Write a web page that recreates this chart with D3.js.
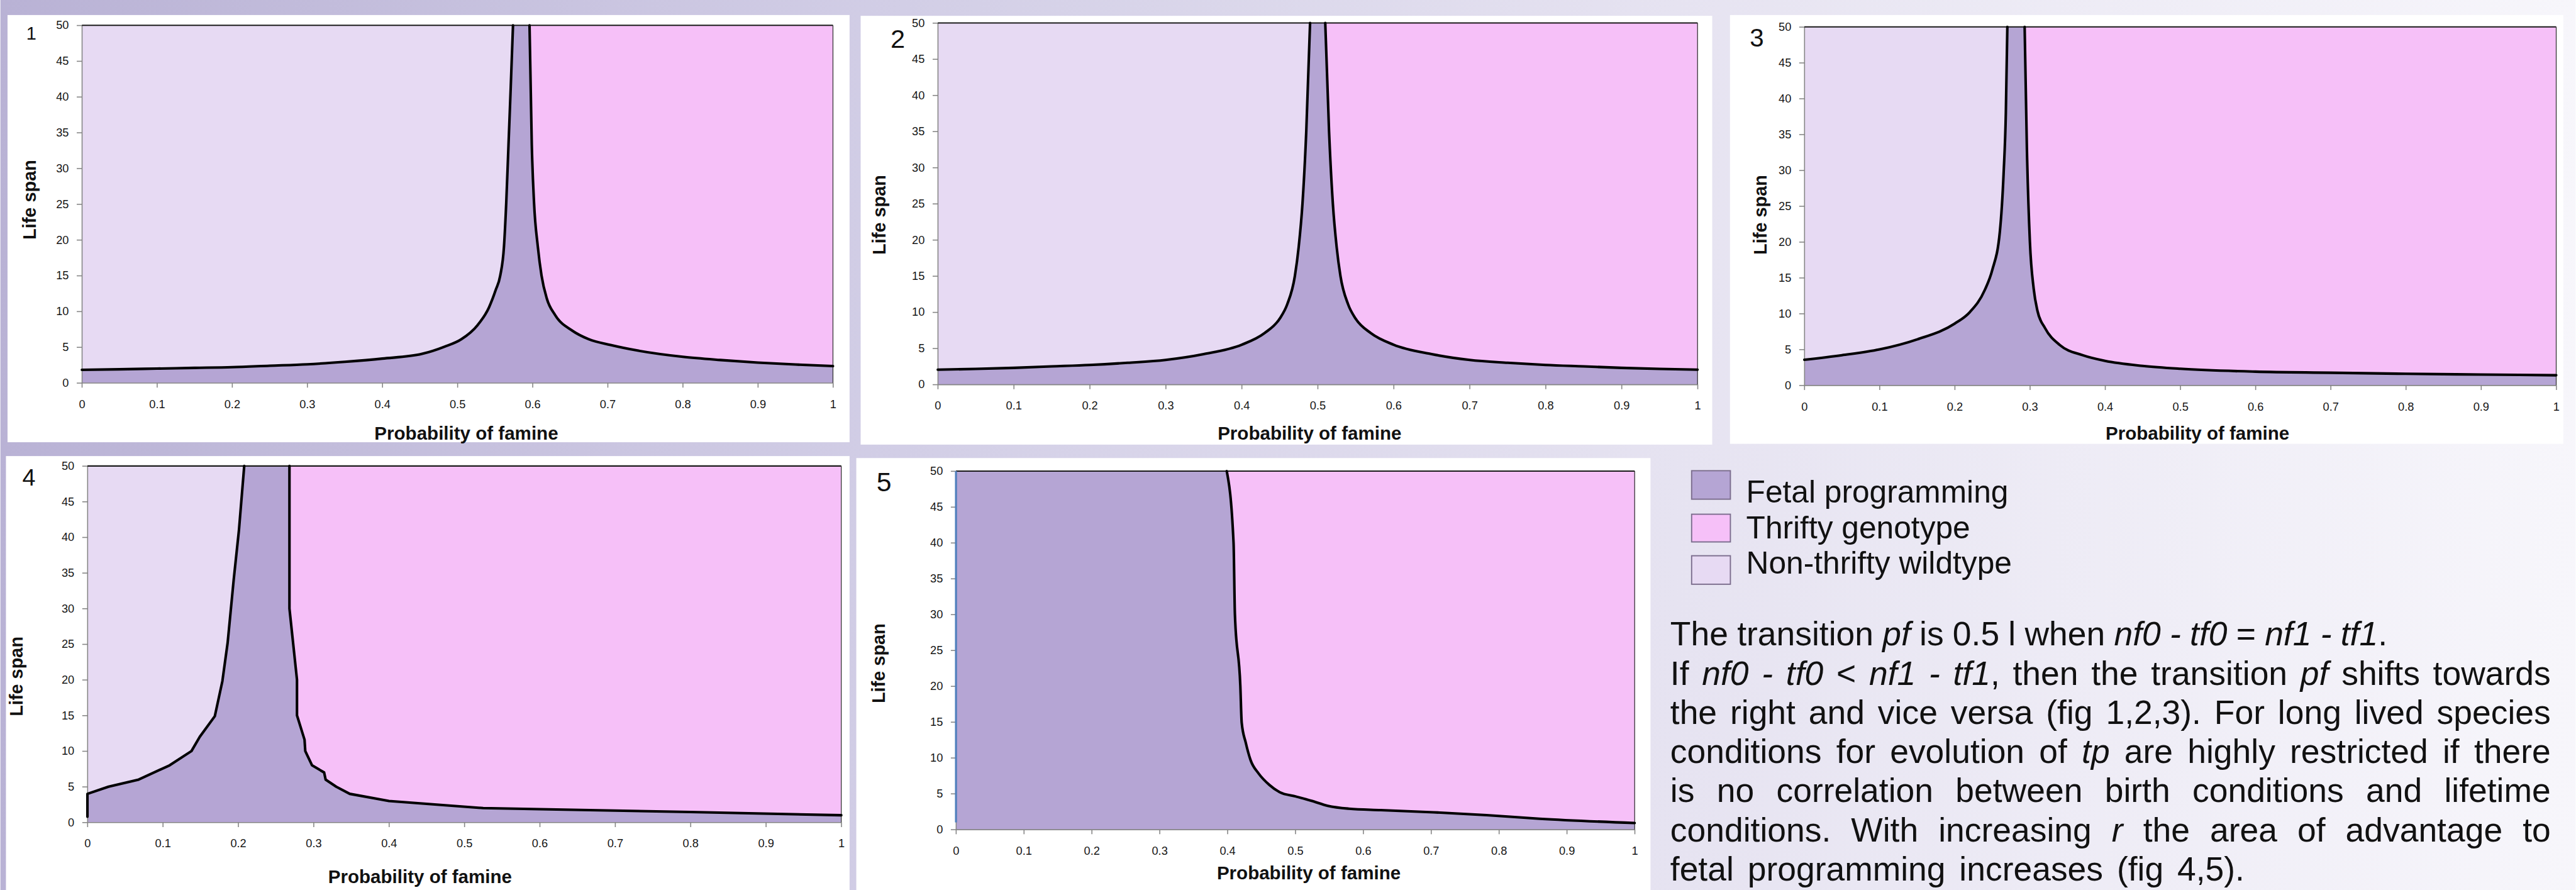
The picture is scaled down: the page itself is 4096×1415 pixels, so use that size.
<!DOCTYPE html>
<html><head><meta charset="utf-8">
<script src="https://cdn.jsdelivr.net/npm/d3@7"></script>
<style>html,body{margin:0;padding:0;overflow:hidden;background:#fff}</style>
</head><body><svg id="c"></svg>
<script>
// ---------------- DATA ----------------
const xTicks = [0,0.1,0.2,0.3,0.4,0.5,0.6,0.7,0.8,0.9,1];
const xTickLabels = ["0","0.1","0.2","0.3","0.4","0.5","0.6","0.7","0.8","0.9","1"];
const yTicks = [0,5,10,15,20,25,30,35,40,45,50];
const xTitle = "Probability of famine";
const yTitle = "Life span";
const panelNames = ["1","2","3","4","5"];

// boundary: non-thrifty wildtype | fetal programming  (probability of famine, life span)
const p1Left = [[0,1.83],[0.05,1.9],[0.1,2.0],[0.15,2.1],[0.2,2.2],[0.25,2.4],[0.3,2.6],[0.35,2.95],[0.4,3.4],[0.453,4.06],[0.483,5.07],[0.505,6.09],[0.527,8.1],[0.542,10.55],[0.551,13.0],[0.557,15.0],[0.562,19.1],[0.565,25.2],[0.568,33.3],[0.571,41.4],[0.574,50]];
// boundary: fetal programming | thrifty genotype
const p1Right = [[0.596,50],[0.599,33.3],[0.602,25.2],[0.607,19.1],[0.612,15.0],[0.619,11.8],[0.63,9.5],[0.653,7.3],[0.675,6.1],[0.704,5.3],[0.741,4.5],[0.8,3.65],[0.85,3.2],[0.9,2.84],[0.95,2.57],[1,2.35]];

const p2Left = [[0,2.05],[0.05,2.15],[0.1,2.3],[0.15,2.5],[0.2,2.7],[0.25,3.0],[0.3,3.4],[0.35,4.2],[0.4,5.5],[0.43,7.1],[0.45,9.1],[0.46,11.1],[0.47,15],[0.475,19],[0.48,25],[0.485,35],[0.49,50]];
const p2Right = [[0.51,50],[0.515,35],[0.52,25],[0.525,19],[0.53,15],[0.54,11.1],[0.55,9.1],[0.57,7.1],[0.6,5.5],[0.65,4.2],[0.7,3.4],[0.75,3.0],[0.8,2.7],[0.85,2.5],[0.9,2.3],[0.95,2.15],[1,2.05]];

const p3Left = [[0,3.56],[0.05,4.2],[0.1,5.0],[0.15,6.4],[0.2,8.6],[0.22,10.2],[0.24,13.3],[0.25,16.1],[0.26,21.4],[0.265,29.5],[0.268,38],[0.27,50]];
const p3Right = [[0.293,50],[0.296,33],[0.3,20],[0.305,13.5],[0.31,10.4],[0.32,8.0],[0.34,5.6],[0.37,4.2],[0.4,3.4],[0.45,2.7],[0.5,2.3],[0.6,1.9],[0.7,1.75],[0.8,1.6],[0.9,1.5],[1,1.4]];

const p4Left = [[0,0.8],[0,4.0],[0.028,5.0],[0.068,6.0],[0.109,8.0],[0.138,10.0],[0.149,12.0],[0.169,14.9],[0.179,19.8],[0.186,25.2],[0.194,34],[0.201,41],[0.208,50]];
const p4Right = [[0.268,50],[0.268,30],[0.278,20],[0.278,15],[0.288,11.6],[0.289,10],[0.298,8],[0.314,7],[0.316,6],[0.33,5],[0.348,4],[0.4,3],[0.525,2],[0.6,1.85],[0.8,1.45],[1,1.0]];

const p5Right = [[0.399,50],[0.409,40],[0.411,30],[0.419,20],[0.421,14.9],[0.427,12.1],[0.434,9.7],[0.446,7.8],[0.462,6.2],[0.477,5.2],[0.501,4.6],[0.524,4.0],[0.548,3.3],[0.579,2.9],[0.626,2.7],[0.704,2.4],[0.782,2.0],[0.86,1.5],[1,0.9]];
const p5Axis = [[0,1.0],[0,50]];

const legendLabels = ["Fetal programming","Thrifty genotype","Non-thrifty wildtype"];
const legendColors = ["#b5a5d4","#f6c0f8","#e7daf3"];

// paragraph: [text, italic]
const paraLines = [
  [["The transition ",0],["pf",1],[" is 0.5 l when ",0],["nf0 - tf0",1],[" = ",0],["nf1 - tf1",1],[".",0]],
  [["If ",0],["nf0 - tf0",1],[" < ",0],["nf1 - tf1",1],[", then the transition ",0],["pf",1],[" shifts towards",0]],
  [["the right and vice versa (fig 1,2,3). For long lived species",0]],
  [["conditions for evolution of ",0],["tp",1],[" are highly restricted if there",0]],
  [["is no correlation between birth conditions and lifetime",0]],
  [["conditions. With increasing ",0],["r",1],[" the area of advantage to",0]],
  [["fetal programming increases (fig 4,5).",0]]
];

// ---------------- LAYOUT ----------------
const W = 6511, H = 2250;
const FETAL = legendColors[0], THRIFTY = legendColors[1], WILD = legendColors[2];
const FONT = "'Liberation Sans', Arial, Helvetica, sans-serif";

const svg = d3.select('#c').attr('width', 4096).attr('height', 1415)
  .attr('viewBox', `0 0 ${W} ${H}`).style('display','block');

const defs = svg.append('defs');
const grad = defs.append('linearGradient').attr('id','bg').attr('x1',0).attr('x2',1).attr('y1',0).attr('y2',0);
[[0,'#b9b2d5'],[0.35,'#d2cee6'],[0.65,'#e6e3f1'],[1,'#f7f6fb']].forEach(s=>
  grad.append('stop').attr('offset',s[0]).attr('stop-color',s[1]));
svg.append('rect').attr('width',W).attr('height',H).attr('fill','url(#bg)');

const panels = [
  {name:panelNames[0], box:[18,38,2147,1118], plot:[206,64,2105,968], left:p1Left, right:p1Right, curve:d3.curveMonotoneX,
   num:[78,100,46], ylab:[90,505], xlab:[1178,1111]},
  {name:panelNames[1], box:[2175,40,4328,1124], plot:[2370,58,4291,972], left:p2Left, right:p2Right, curve:d3.curveMonotoneX,
   num:[2269,121,66], ylab:[2238,543], xlab:[3310,1111]},
  {name:panelNames[2], box:[4373,38,6480,1122], plot:[4561,68,6462,974], left:p3Left, right:p3Right, curve:d3.curveMonotoneX,
   num:[4441,117,64], ylab:[4466,543], xlab:[5555,1111]},
  {name:panelNames[3], box:[14,1153,2147,2260], plot:[220,1178,2126,2079], left:p4Left, right:p4Right, curve:d3.curveLinear,
   num:[72,1228,60], ylab:[57,1710], xlab:[1061,2233]},
  {name:panelNames[4], box:[2164,1158,4172,2260], plot:[2416,1191,4132,2097], left:null, right:p5Right, curve:d3.curveMonotoneX,
   num:[2234,1242,68], ylab:[2236,1677], xlab:[3308,2223], blueAxis:p5Axis}
];

panels.forEach(p => {
  const g = svg.append('g');
  g.append('rect').attr('x',p.box[0]).attr('y',p.box[1])
    .attr('width',p.box[2]-p.box[0]).attr('height',p.box[3]-p.box[1]).attr('fill','#ffffff');
  const x = d3.scaleLinear().domain([0,1]).range([p.plot[0],p.plot[2]]);
  const y = d3.scaleLinear().domain([0,50]).range([p.plot[3],p.plot[1]]);

  // base: fetal programming
  g.append('rect').attr('x',x(0)).attr('y',y(50)).attr('width',x(1)-x(0)).attr('height',y(0)-y(50)).attr('fill',FETAL);

  const area = d3.area().x(d=>x(d[0])).y0(y(50)).y1(d=>y(d[1])).curve(p.curve);
  const line = d3.line().x(d=>x(d[0])).y(d=>y(d[1])).curve(p.curve);
  if (p.left) g.append('path').datum(p.left).attr('d',area).attr('fill',WILD);
  if (p.right) g.append('path').datum(p.right).attr('d',area).attr('fill',THRIFTY);

  // axes
  const ya = d3.axisLeft(y).tickValues(yTicks).tickSize(13).tickSizeOuter(0).tickPadding(20);
  const xa = d3.axisBottom(x).tickValues(xTicks).tickFormat((d,i)=>xTickLabels[i]).tickSize(12).tickSizeOuter(0).tickPadding(31);
  const gy = g.append('g').attr('transform',`translate(${x(0)},0)`).call(ya);
  const gx = g.append('g').attr('transform',`translate(0,${y(0)})`).call(xa);
  [gx,gy].forEach(a=>{
    a.selectAll('path,line').attr('stroke','#858585').attr('stroke-width',2.5);
    a.selectAll('text').attr('font-family',FONT).attr('font-size',29).attr('fill','#151515');
  });

  // plot frame top & right
  g.append('line').attr('x1',x(0)).attr('x2',x(1)).attr('y1',y(50)).attr('y2',y(50)).attr('stroke','#1a1a1a').attr('stroke-width',3.5);
  g.append('line').attr('x1',x(1)).attr('x2',x(1)).attr('y1',y(50)).attr('y2',y(0)).attr('stroke','#333').attr('stroke-width',2);

  if (p.blueAxis) g.append('path').datum(p.blueAxis).attr('d',d3.line().x(d=>x(d[0])).y(d=>y(d[1])))
    .attr('stroke','#4f7fbd').attr('stroke-width',5).attr('fill','none');

  // boundary lines
  [p.left,p.right].forEach(c=>{ if(!c) return;
    g.append('path').datum(c).attr('d',line).attr('fill','none').attr('stroke','#000')
      .attr('stroke-width',6.5).attr('stroke-linejoin','round').attr('stroke-linecap','round');
  });

  // labels
  g.append('text').attr('x',p.num[0]).attr('y',p.num[1]).attr('text-anchor','middle')
    .attr('font-family',FONT).attr('font-size',p.num[2]).attr('fill','#111').text(p.name);
  g.append('text').attr('transform',`translate(${p.ylab[0]},${p.ylab[1]}) rotate(-90)`).attr('text-anchor','middle')
    .attr('font-family',FONT).attr('font-weight','bold').attr('font-size',46).attr('fill','#111').text(yTitle);
  g.append('text').attr('x',p.xlab[0]).attr('y',p.xlab[1]).attr('text-anchor','middle')
    .attr('font-family',FONT).attr('font-weight','bold').attr('font-size',47).attr('fill','#111').text(xTitle);
});

// ---------------- LEGEND ----------------
const legSq = [[4276,1190,72],[4276,1300,70],[4276,1405,72]];
const legBase = [1271,1361,1450];
legendLabels.forEach((lab,i)=>{
  svg.append('rect').attr('x',legSq[i][0]).attr('y',legSq[i][1]).attr('width',98).attr('height',legSq[i][2])
    .attr('fill',legendColors[i]).attr('stroke','#7a6c8c').attr('stroke-width',3);
  svg.append('text').attr('x',4414).attr('y',legBase[i]).attr('font-family',FONT).attr('font-size',79)
    .attr('fill','#111').text(lab);
});

// ---------------- PARAGRAPH ----------------
const paraX = 4222;
const paraBase = [1632,1731,1830,1929,2028,2127,2226];
const paraWidth = [1813,2226,2226,2226,2226,2226,1452];
paraLines.forEach((ln,i)=>{
  const t = svg.append('text').attr('x',paraX).attr('y',paraBase[i]).attr('font-family',FONT)
    .attr('font-size',85).attr('fill','#111');
  ln.forEach(seg=>{
    t.append('tspan').attr('font-style',seg[1]?'italic':'normal').text(seg[0]);
  });
  const nat = t.node().getComputedTextLength();
  const full = ln.map(s=>s[0]).join('');
  const spaces = (full.match(/ /g)||[]).length;
  if (spaces>0) t.attr('word-spacing',(paraWidth[i]-nat)/spaces);
});
</script></body></html>
